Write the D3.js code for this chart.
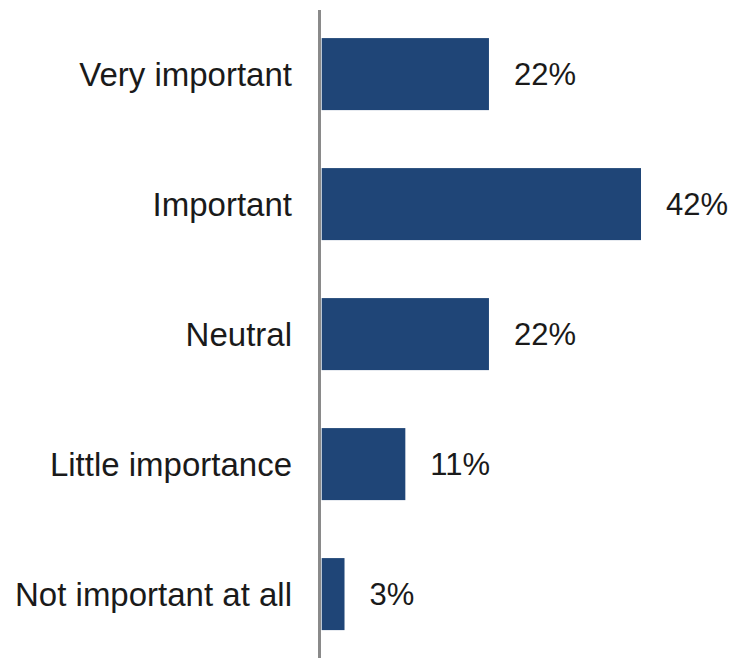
<!DOCTYPE html>
<html>
<head>
<meta charset="utf-8">
<script src="https://cdn.jsdelivr.net/npm/d3@7/dist/d3.min.js"></script>
<style>
  html, body { margin: 0; padding: 0; background: #ffffff; }
  svg { display: block; }
  text { font-family: Arial, "Liberation Sans", sans-serif; fill: #1a1a1a; }
</style>
</head>
<body>
<svg id="chart" width="733" height="658"></svg>
<script>
// Survey responses: how important is it?
const categories = ["Very important", "Important", "Neutral", "Little importance", "Not important at all"];
const shares = [22, 42, 22, 11, 3];
const valueLabels = ["22%", "42%", "22%", "11%", "3%"];

const svg = d3.select("#chart");
const W = 733, H = 658;

const x = d3.scaleLinear().domain([0, 42]).range([321.7, 641]);
const y = d3.scaleBand()
  .domain(categories)
  .range([9.1, 659.1])
  .paddingInner(0.446)
  .paddingOuter(0.223);

const rows = categories.map((c, i) => ({ cat: c, v: shares[i], label: valueLabels[i] }));

// bars
svg.append("g").selectAll("rect")
  .data(rows)
  .join("rect")
  .attr("x", x(0))
  .attr("y", d => y(d.cat))
  .attr("width", d => x(d.v) - x(0))
  .attr("height", y.bandwidth())
  .attr("fill", "#1f4577");

// vertical category axis line
svg.append("line")
  .attr("x1", 319.5).attr("x2", 319.5)
  .attr("y1", 10).attr("y2", H)
  .attr("stroke", "#8a8a8a")
  .attr("stroke-width", 3);

// category labels
svg.append("g").selectAll("text")
  .data(rows)
  .join("text")
  .attr("x", 292)
  .attr("y", d => y(d.cat) + y.bandwidth() / 2)
  .attr("dy", "0.35em")
  .attr("text-anchor", "end")
  .style("font-size", "33px")
  .text(d => d.cat);

// value labels
svg.append("g").selectAll("text")
  .data(rows)
  .join("text")
  .attr("x", d => x(d.v) + 25)
  .attr("y", d => y(d.cat) + y.bandwidth() / 2)
  .attr("dy", "0.36em")
  .attr("text-anchor", "start")
  .style("font-size", "31px")
  .text(d => d.label);
</script>
</body>
</html>
